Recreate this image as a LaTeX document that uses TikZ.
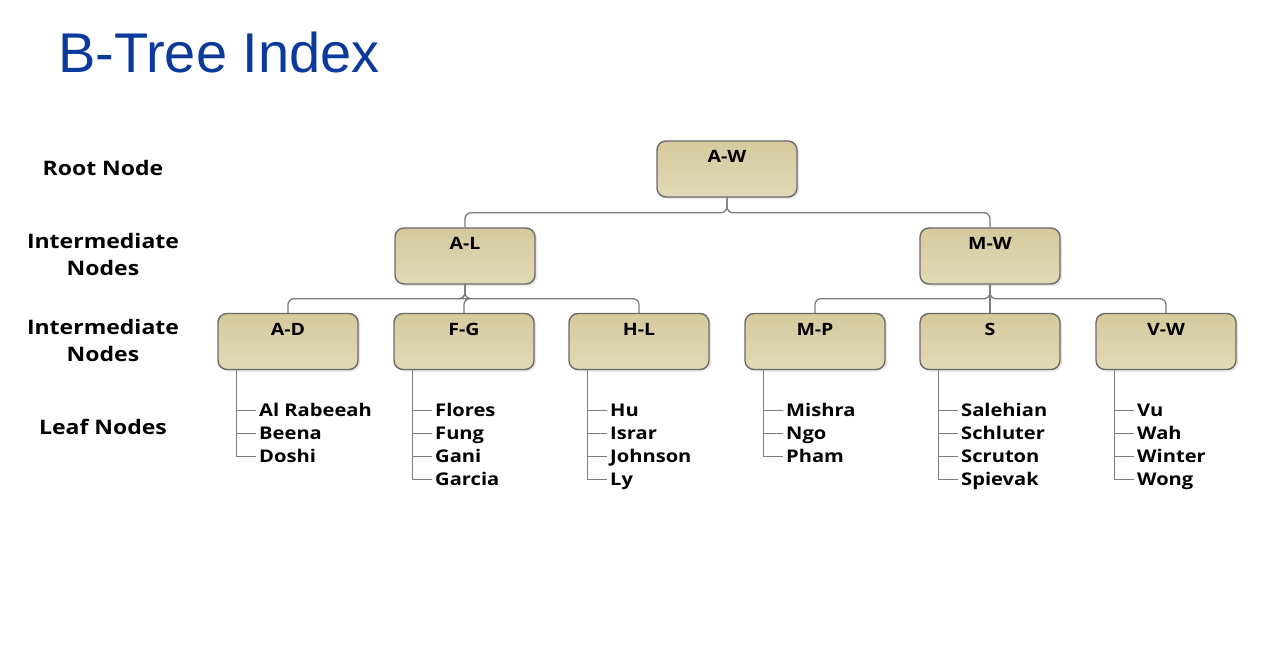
\documentclass[tikz,border=0pt]{standalone}
\usepackage{fontspec}
\setmainfont[FakeStretch=1.15]{Open Sans}
\newfontfamily\titlefont{Liberation Sans}
\usetikzlibrary{shadows}
\definecolor{titleblue}{HTML}{0B3A9C}
\definecolor{boxtop}{HTML}{D5C99D}
\definecolor{boxbottom}{HTML}{E2DAB7}
\definecolor{boxline}{HTML}{6A6A6A}
\definecolor{linkgray}{HTML}{7C7C7C}

\begin{document}
\begin{tikzpicture}[x=1pt,y=-1pt,
  treebox/.style={draw=boxline, line width=1.4pt, rounded corners=9pt,
    top color=boxtop, bottom color=boxbottom, minimum width=140pt,
    inner ysep=0pt, text height=22pt, text depth=34pt,
    font=\bfseries\fontsize{17}{18}\selectfont,
    drop shadow={opacity=0.2, shadow xshift=2pt, shadow yshift=-2pt}},
  link/.style={draw=linkgray, line width=1.3pt, rounded corners=6pt},
  leaflink/.style={draw=linkgray, line width=1.3pt},
  leaf/.style={anchor=west, inner xsep=3pt, inner ysep=2pt, text height=12pt, text depth=0pt,
    font=\bfseries\fontsize{17.5}{18}\selectfont},
  level/.style={align=center, font=\bfseries\fontsize{20}{27}\selectfont}]
\fill[white] (0,0) rectangle (1268,668);
\useasboundingbox (0,0) rectangle (1268,668);

\node[anchor=base west, inner sep=0pt, text=titleblue,
  font=\titlefont\fontsize{56}{60}\selectfont] (title) at (58,73) {B-Tree Index};

% level labels
\node[level] (rootlab) at (103,168) {Root Node};
\node[level] (midlab1) at (103,254.5) {Intermediate\\Nodes};
\node[level] (midlab2) at (103,340.5) {Intermediate\\Nodes};
\node[level] (leaflab) at (103,427) {Leaf Nodes};

% boxes
\node[treebox] (aw) at (727,169) {A-W};
\node[treebox] (al) at (465,256) {A-L};
\node[treebox] (mw) at (990,256) {M-W};
\node[treebox] (ad) at (288,341.5) {A-D};
\node[treebox] (fg) at (464,341.5) {F-G};
\node[treebox] (hl) at (639,341.5) {H-L};
\node[treebox] (mp) at (815,341.5) {M-P};
\node[treebox] (s)  at (990,341.5) {S};
\node[treebox] (vw) at (1166,341.5) {V-W};

% links
\draw[link] (aw.south) -- ++(0,15) -| (al.north);
\draw[link] (aw.south) -- ++(0,15) -| (mw.north);
\draw[link] (al.south) -- ++(0,14) -| (ad.north);
\draw[link] (al.south) -- ++(0,14) -| (fg.north);
\draw[link] (al.south) -- ++(0,14) -| (hl.north);
\draw[link] (mw.south) -- ++(0,14) -| (mp.north);
\draw[link] (mw.south) -- ++(0,14) -| (s.north);
\draw[link] (mw.south) -- ++(0,14) -| (vw.north);

% leaves
\node[leaf] (ad1) at (256,410.5) {Al Rabeeah};
\node[leaf] (ad2) at (256,433.5) {Beena};
\node[leaf] (ad3) at (256,456.5) {Doshi};
\node[leaf] (fg1) at (432,410.5) {Flores};
\node[leaf] (fg2) at (432,433.5) {Fung};
\node[leaf] (fg3) at (432,456.5) {Gani};
\node[leaf] (fg4) at (432,479.5) {Garcia};
\node[leaf] (hl1) at (607,410.5) {Hu};
\node[leaf] (hl2) at (607,433.5) {Israr};
\node[leaf] (hl3) at (607,456.5) {Johnson};
\node[leaf] (hl4) at (607,479.5) {Ly};
\node[leaf] (mp1) at (783,410.5) {Mishra};
\node[leaf] (mp2) at (783,433.5) {Ngo};
\node[leaf] (mp3) at (783,456.5) {Pham};
\node[leaf] (s1) at (958,410.5) {Salehian};
\node[leaf] (s2) at (958,433.5) {Schluter};
\node[leaf] (s3) at (958,456.5) {Scruton};
\node[leaf] (s4) at (958,479.5) {Spievak};
\node[leaf] (vw1) at (1134,410.5) {Vu};
\node[leaf] (vw2) at (1134,433.5) {Wah};
\node[leaf] (vw3) at (1134,456.5) {Winter};
\node[leaf] (vw4) at (1134,479.5) {Wong};

\draw[leaflink] ([xshift=19pt]ad.south west) |- (ad1.west);
\draw[leaflink] ([xshift=19pt]ad.south west) |- (ad2.west);
\draw[leaflink] ([xshift=19pt]ad.south west) |- (ad3.west);
\draw[leaflink] ([xshift=19pt]fg.south west) |- (fg1.west);
\draw[leaflink] ([xshift=19pt]fg.south west) |- (fg2.west);
\draw[leaflink] ([xshift=19pt]fg.south west) |- (fg3.west);
\draw[leaflink] ([xshift=19pt]fg.south west) |- (fg4.west);
\draw[leaflink] ([xshift=19pt]hl.south west) |- (hl1.west);
\draw[leaflink] ([xshift=19pt]hl.south west) |- (hl2.west);
\draw[leaflink] ([xshift=19pt]hl.south west) |- (hl3.west);
\draw[leaflink] ([xshift=19pt]hl.south west) |- (hl4.west);
\draw[leaflink] ([xshift=19pt]mp.south west) |- (mp1.west);
\draw[leaflink] ([xshift=19pt]mp.south west) |- (mp2.west);
\draw[leaflink] ([xshift=19pt]mp.south west) |- (mp3.west);
\draw[leaflink] ([xshift=19pt]s.south west) |- (s1.west);
\draw[leaflink] ([xshift=19pt]s.south west) |- (s2.west);
\draw[leaflink] ([xshift=19pt]s.south west) |- (s3.west);
\draw[leaflink] ([xshift=19pt]s.south west) |- (s4.west);
\draw[leaflink] ([xshift=19pt]vw.south west) |- (vw1.west);
\draw[leaflink] ([xshift=19pt]vw.south west) |- (vw2.west);
\draw[leaflink] ([xshift=19pt]vw.south west) |- (vw3.west);
\draw[leaflink] ([xshift=19pt]vw.south west) |- (vw4.west);
\end{tikzpicture}
\end{document}
